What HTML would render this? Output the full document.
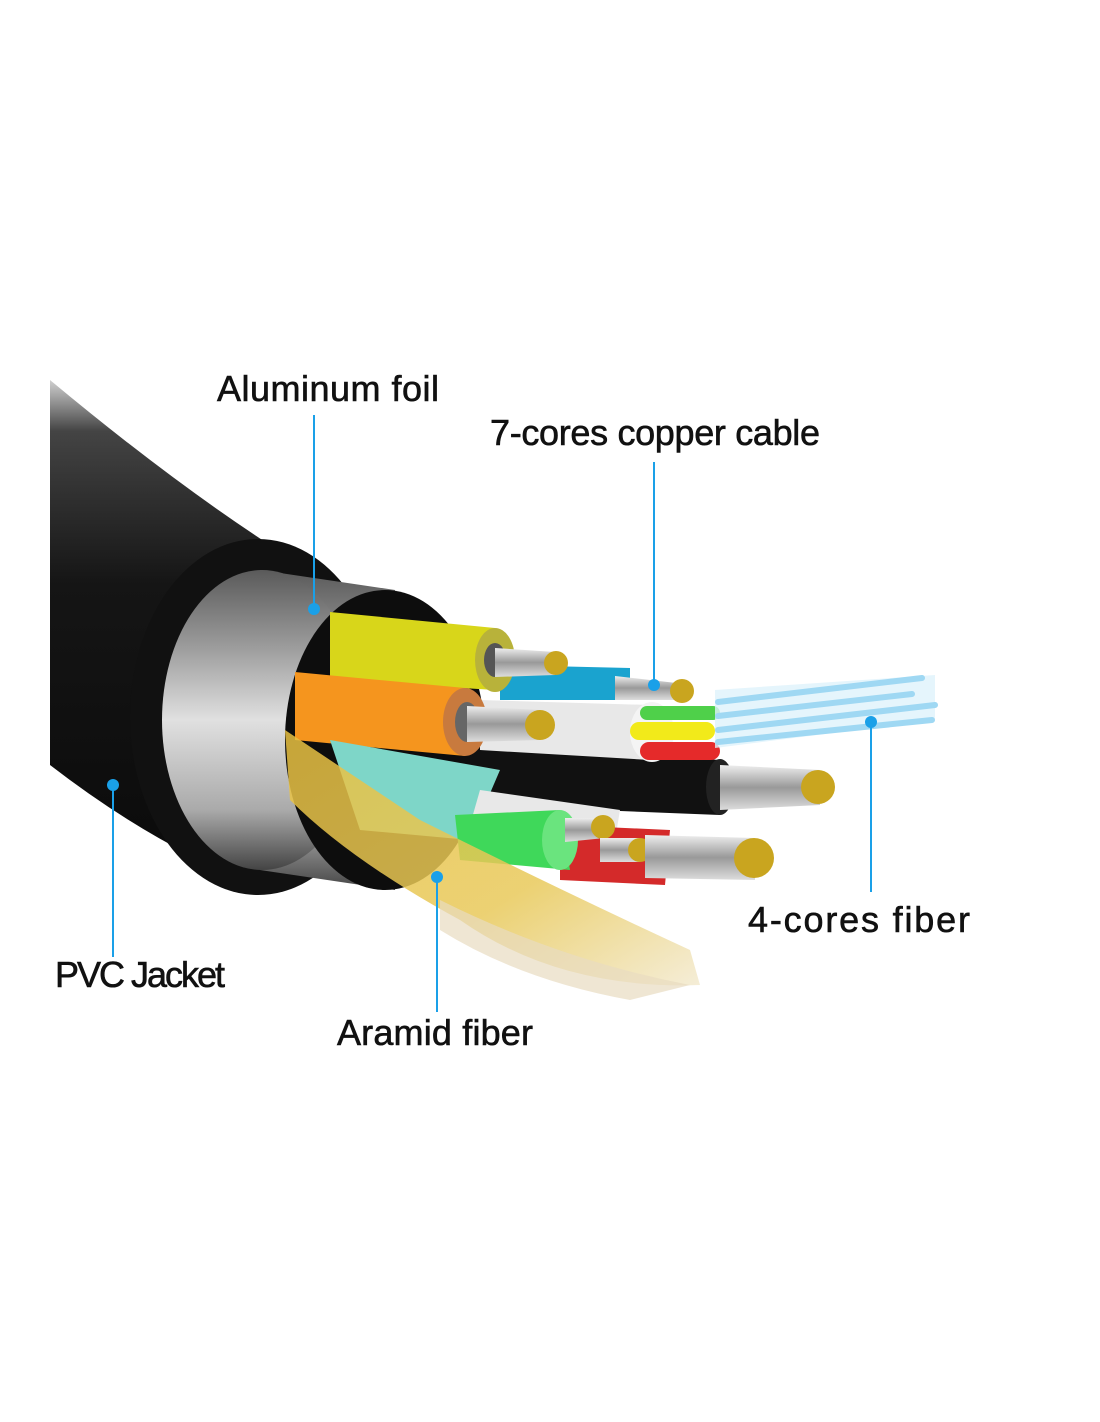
<!DOCTYPE html>
<html><head><style>
body{margin:0;background:#fff;}
svg{display:block}
text{font-family:"Liberation Sans",sans-serif;font-size:36px;fill:#111;stroke:#111;stroke-width:0.6px;}
</style></head><body>
<svg width="1100" height="1422" viewBox="0 0 1100 1422">
<defs>
<linearGradient id="jk" x1="0" y1="0" x2="0" y2="1">
<stop offset="0" stop-color="#d0d0d0"/><stop offset="0.1" stop-color="#444"/><stop offset="0.4" stop-color="#151515"/><stop offset="1" stop-color="#0a0a0a"/></linearGradient>
<linearGradient id="foil" x1="0" y1="0" x2="0" y2="1">
<stop offset="0" stop-color="#5a5a5a"/><stop offset="0.25" stop-color="#9a9a9a"/><stop offset="0.5" stop-color="#e0e0e0"/><stop offset="0.8" stop-color="#aaa"/><stop offset="1" stop-color="#444"/></linearGradient>
<linearGradient id="cu" x1="0" y1="0" x2="0" y2="1">
<stop offset="0" stop-color="#eee"/><stop offset="0.5" stop-color="#999"/><stop offset="1" stop-color="#ddd"/></linearGradient>
<linearGradient id="aram" x1="0" y1="0" x2="1" y2="1">
<stop offset="0" stop-color="#e8c040"/><stop offset="0.6" stop-color="#e8c95a"/><stop offset="1" stop-color="#f3ead0"/></linearGradient>
</defs>
<!-- jacket body -->
<path d="M50,380 Q170,480 270,545 L270,890 Q160,850 50,765 Z" fill="url(#jk)"/>
<ellipse cx="258" cy="717" rx="128" ry="178" fill="#111"/>
<!-- foil cylinder -->
<path d="M260,570 L395,590 L395,890 L260,870 Z" fill="url(#foil)"/>
<ellipse cx="262" cy="720" rx="100" ry="150" fill="url(#foil)"/>
<ellipse cx="385" cy="740" rx="100" ry="150" fill="#0d0d0d"/>
<!-- dark wire -->
<path d="M470,745 L720,760 L720,815 L470,805 Z" fill="#111"/>
<ellipse cx="720" cy="787" rx="14" ry="28" fill="#222"/>
<path d="M720,765 L820,770 L820,805 L720,810 Z" fill="url(#cu)"/>
<circle cx="818" cy="787" r="17" fill="#c9a51f"/>
<!-- blue -->
<path d="M500,665 L630,668 L630,700 L500,700 Z" fill="#1aa3cf"/>
<path d="M615,676 L685,684 L685,700 L615,700 Z" fill="url(#cu)"/>
<circle cx="682" cy="691" r="12" fill="#c9a51f"/>
<!-- white tube with fiber -->
<path d="M480,700 L650,705 L650,760 L480,750 Z" fill="#e8e8e8"/>
<ellipse cx="652" cy="732" rx="22" ry="30" fill="#f4f4f4"/>
<rect x="640" y="706" width="80" height="14" rx="7" fill="#4fd04a"/>
<rect x="630" y="722" width="85" height="18" rx="9" fill="#f2ea1a"/>
<rect x="640" y="742" width="80" height="18" rx="9" fill="#e52a2a"/>
<path d="M715,690 L935,675 L935,720 L715,748 Z" fill="#dff2fb" opacity="0.8"/>
<g stroke="#9fd8f3" stroke-width="6" stroke-linecap="round"><line x1="718" y1="702" x2="922" y2="678"/><line x1="718" y1="716" x2="912" y2="694"/><line x1="718" y1="730" x2="935" y2="705"/><line x1="718" y1="742" x2="932" y2="720"/></g>
<!-- yellow -->
<path d="M330,612 L495,628 L495,690 L330,680 Z" fill="#d8d61a"/>
<ellipse cx="495" cy="660" rx="20" ry="32" fill="#b8b23a"/>
<ellipse cx="495" cy="660" rx="11" ry="17" fill="#555"/>
<path d="M495,648 L555,652 L555,675 L495,677 Z" fill="url(#cu)"/>
<circle cx="556" cy="663" r="12" fill="#c9a51f"/>
<!-- orange -->
<path d="M295,672 L465,688 L465,756 L295,740 Z" fill="#f5951e"/>
<ellipse cx="465" cy="722" rx="22" ry="34" fill="#c87a3e"/>
<ellipse cx="467" cy="722" rx="12" ry="20" fill="#666"/>
<path d="M467,706 L540,710 L540,740 L467,742 Z" fill="url(#cu)"/>
<circle cx="540" cy="725" r="15" fill="#c9a51f"/>
<!-- teal sheet -->
<path d="M330,740 L500,770 L470,840 L360,830 Z" fill="#7ed6c8"/>
<!-- lower wires -->
<path d="M480,790 L620,810 L615,840 L470,825 Z" fill="#e8e8e8"/>
<path d="M560,825 L670,830 L665,885 L560,880 Z" fill="#d42a2a"/>
<path d="M455,815 L560,810 L570,870 L460,860 Z" fill="#3fd85a"/>
<ellipse cx="560" cy="840" rx="18" ry="30" fill="#6ae47e"/>
<path d="M565,818 L605,818 L605,838 L565,842 Z" fill="url(#cu)"/>
<circle cx="603" cy="827" r="12" fill="#c9a51f"/>
<path d="M600,838 L640,838 L640,862 L600,862 Z" fill="url(#cu)"/>
<circle cx="640" cy="850" r="12" fill="#c9a51f"/>
<path d="M645,835 L755,838 L755,880 L645,878 Z" fill="url(#cu)"/>
<circle cx="754" cy="858" r="20" fill="#c9a51f"/>
<!-- aramid -->
<path d="M285,730 Q330,760 420,820 Q560,890 690,950 L700,985 Q560,990 460,920 Q350,860 290,800 Z" fill="url(#aram)" opacity="0.85"/>
<path d="M440,900 Q560,960 690,985 L630,1000 Q520,980 440,930 Z" fill="#e8dcc0" opacity="0.7"/>
<!-- callouts -->
<g stroke="#1aa0e8" stroke-width="2"><line x1="314" y1="415" x2="314" y2="607"/><line x1="654" y1="462" x2="654" y2="685"/><line x1="871" y1="722" x2="871" y2="892"/><line x1="113" y1="785" x2="113" y2="957"/><line x1="437" y1="877" x2="437" y2="1012"/></g>
<g fill="#1aa0e8"><circle cx="314" cy="609" r="6"/><circle cx="654" cy="685" r="6"/><circle cx="871" cy="722" r="6"/><circle cx="113" cy="785" r="6"/><circle cx="437" cy="877" r="6"/></g>
<text x="217" y="401" textLength="222">Aluminum foil</text>
<text x="490" y="445" textLength="330">7-cores copper cable</text>
<text x="748" y="932" textLength="222">4-cores fiber</text>
<text x="55" y="987" textLength="170">PVC Jacket</text>
<text x="337" y="1045" textLength="196">Aramid fiber</text>
</svg>
</body></html>
